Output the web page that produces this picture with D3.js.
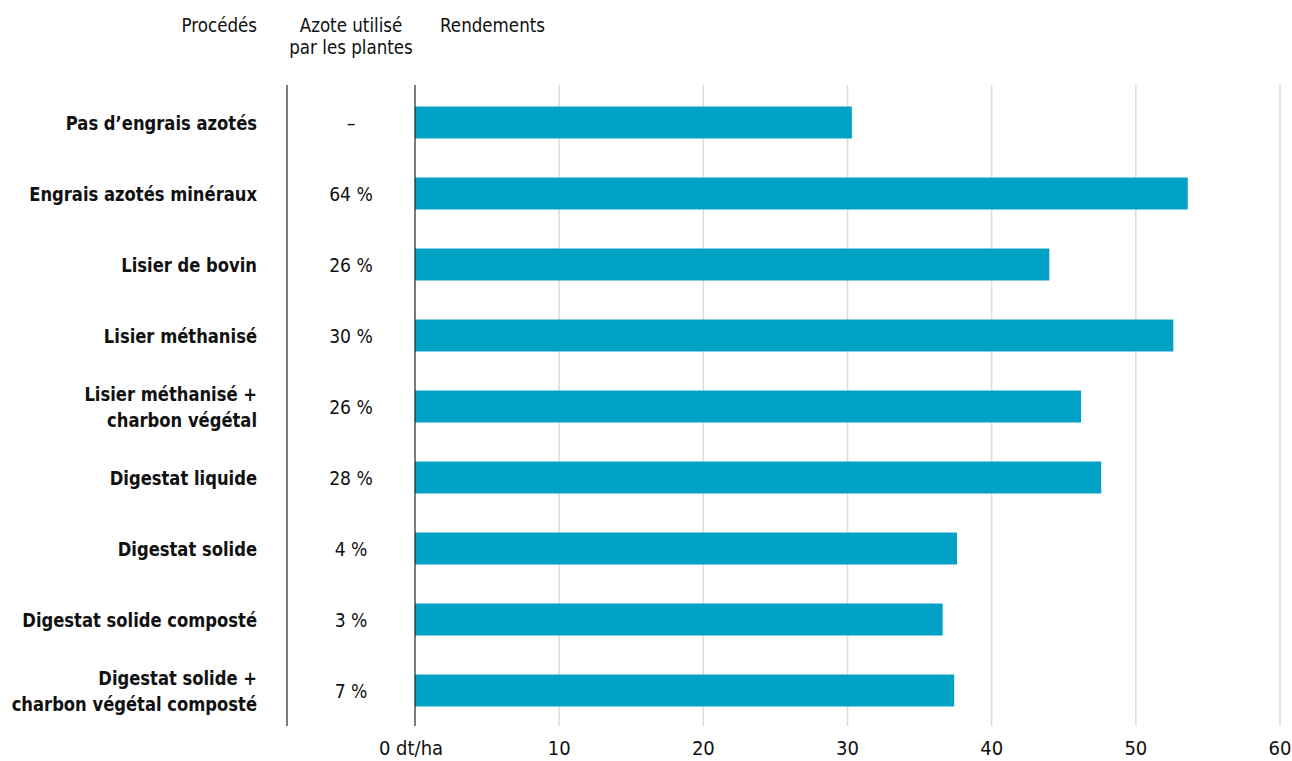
<!DOCTYPE html>
<html>
<head>
<meta charset="utf-8">
<script src="https://cdn.jsdelivr.net/npm/d3@7"></script>
<style>
  body { margin: 0; background: #fff; }
  text { font-family: "DejaVu Sans", sans-serif; fill: #111; }
</style>
</head>
<body>
<div id="chart"></div>
<script>
const categories = [
  ["Pas d’engrais azotés"],
  ["Engrais azotés minéraux"],
  ["Lisier de bovin"],
  ["Lisier méthanisé"],
  ["Lisier méthanisé +", "charbon végétal"],
  ["Digestat liquide"],
  ["Digestat solide"],
  ["Digestat solide composté"],
  ["Digestat solide +", "charbon végétal composté"]
];
const azote = ["–", "64 %", "26 %", "30 %", "26 %", "28 %", "4 %", "3 %", "7 %"];
const rendements = [30.3, 53.6, 44.0, 52.6, 46.2, 47.6, 37.6, 36.6, 37.4];
const ticks = [0, 10, 20, 30, 40, 50, 60];

const W = 1292, H = 761;
const plotTop = 85, plotBottom = 726;

const svg = d3.select("#chart")
  .append("svg")
  .attr("width", W)
  .attr("height", H);

const x = d3.scaleLinear()
  .domain([0, 60])
  .range([415, 1280]);

const y = d3.scaleBand()
  .domain(d3.range(categories.length))
  .range([plotTop + 2, plotBottom])
  .paddingInner(0.55)
  .paddingOuter(0.275);

// texte étroit : groupe translaté puis compressé horizontalement
function label(parent, px, py, txt, anchor, opts) {
  const g = parent.append("g")
    .attr("transform", `translate(${px},${py}) scale(${opts.sx},1)`);
  g.append("text")
    .attr("text-anchor", anchor)
    .style("font-size", opts.size + "px")
    .style("font-weight", opts.bold ? "bold" : "normal")
    .text(txt);
  return g;
}

const bold = { sx: 0.82, size: 20, bold: true };
const regular = { sx: 0.86, size: 20, bold: false };
const header = { sx: 0.88, size: 19, bold: false };
const tick = { sx: 0.9, size: 20, bold: false };

// grille
svg.append("g")
  .selectAll("line")
  .data(ticks.slice(1))
  .join("line")
  .attr("x1", d => x(d))
  .attr("x2", d => x(d))
  .attr("y1", plotTop)
  .attr("y2", plotBottom)
  .attr("stroke", "#dcdcdc")
  .attr("stroke-width", 1.5);

// barres
svg.append("g")
  .selectAll("rect")
  .data(rendements)
  .join("rect")
  .attr("x", x(0))
  .attr("y", (d, i) => y(i))
  .attr("width", d => x(d) - x(0))
  .attr("height", y.bandwidth())
  .attr("fill", "#00a1c5");

// lignes verticales
svg.append("line")
  .attr("x1", x(0)).attr("x2", x(0))
  .attr("y1", plotTop).attr("y2", plotBottom)
  .attr("stroke", "#222").attr("stroke-width", 1.2);

svg.append("line")
  .attr("x1", 287).attr("x2", 287)
  .attr("y1", plotTop).attr("y2", plotBottom)
  .attr("stroke", "#222").attr("stroke-width", 1.2);

// axe x
const axisG = svg.append("g");
ticks.forEach(d => {
  label(axisG, x(d) + (d === 0 ? -4 : 0), 755, d === 0 ? "0 dt/ha" : String(d), "middle", tick);
});

// étiquettes des procédés
const catG = svg.append("g");
categories.forEach((lines, i) => {
  const cy = y(i) + y.bandwidth() / 2;
  lines.forEach((t, j) => {
    const off = lines.length === 1 ? 0 : (j === 0 ? -13 : 13);
    label(catG, 257, cy + off + 7, t, "end", bold);
  });
});

// azote
const azG = svg.append("g");
azote.forEach((t, i) => {
  label(azG, 351, y(i) + y.bandwidth() / 2 + 7, t, "middle", regular);
});

// en-têtes
label(svg, 257, 32, "Procédés", "end", header);
label(svg, 351, 32, "Azote utilisé", "middle", header);
label(svg, 351, 54, "par les plantes", "middle", header);
label(svg, 440, 32, "Rendements", "start", header);
</script>
</body>
</html>
